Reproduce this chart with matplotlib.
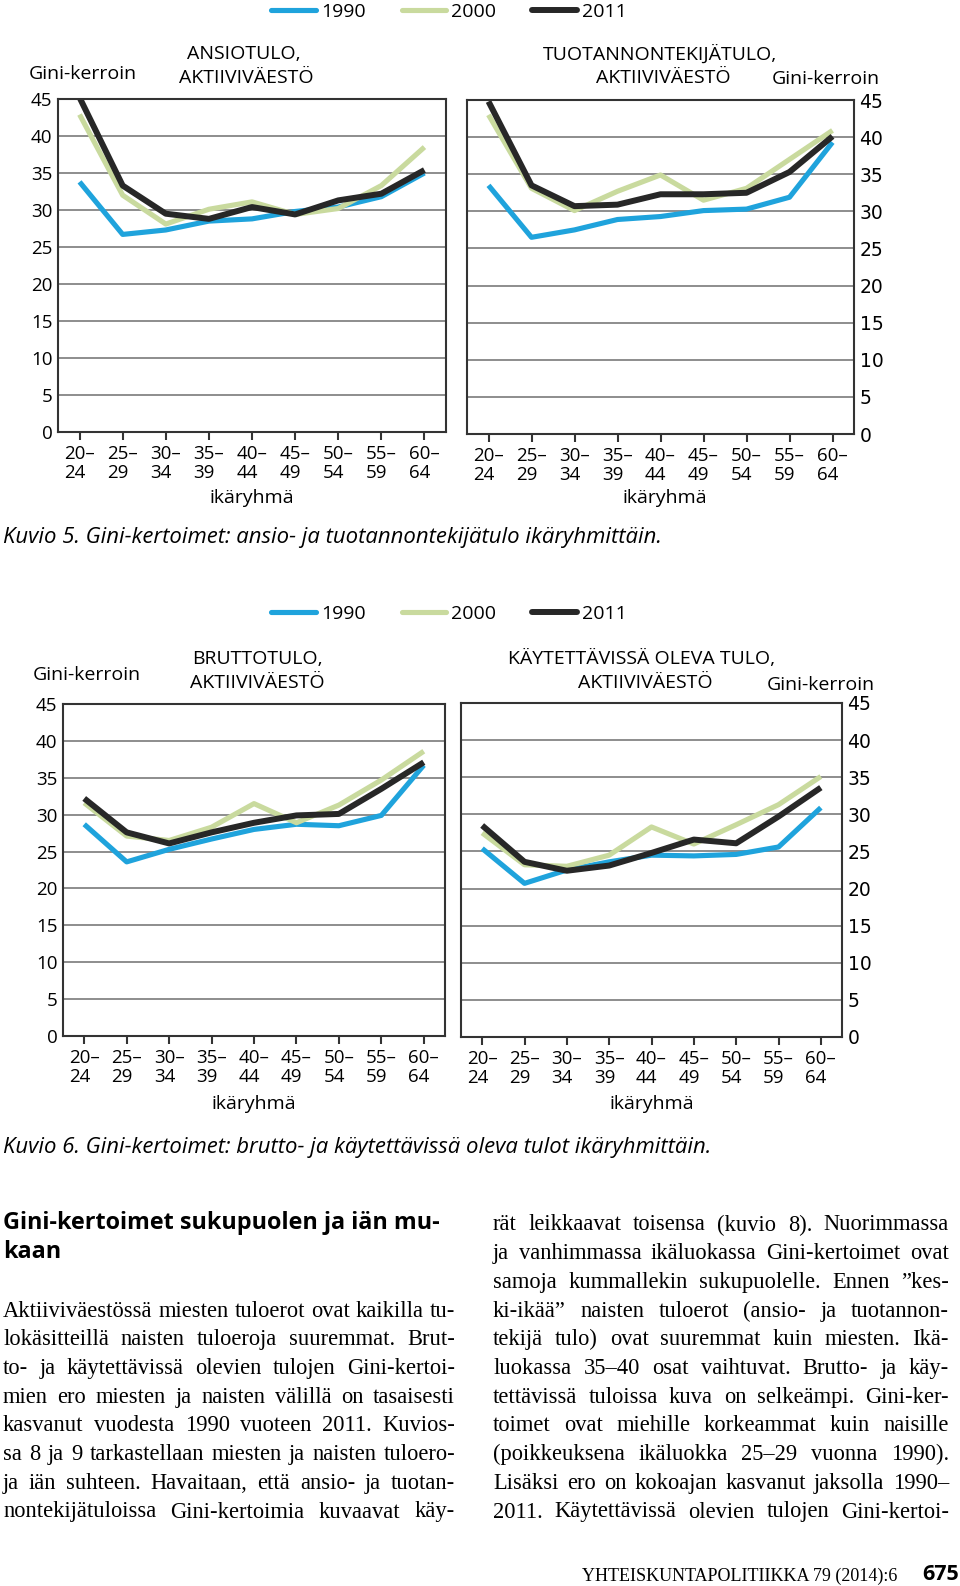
# plot.py
# Gini-kertoimet ikäryhmittäin (Kuvio 5 ja Kuvio 6) + leipäteksti

import matplotlib
matplotlib.use("Agg")
import matplotlib.pyplot as plt

# ─────────────────────────────────────────────────────────
# DATA (luettu kuvasta)
# ─────────────────────────────────────────────────────────
age_groups = ["20–\n24", "25–\n29", "30–\n34", "35–\n39", "40–\n44",
              "45–\n49", "50–\n54", "55–\n59", "60–\n64"]
years = ["1990", "2000", "2011"]
y_ticks = [0, 5, 10, 15, 20, 25, 30, 35, 40, 45]

ansio_1990 = [33.8, 26.7, 27.3, 28.5, 28.8, 29.8, 30.4, 31.8, 35.0]
ansio_2000 = [42.9, 32.0, 28.1, 30.1, 31.1, 29.4, 30.2, 33.3, 38.5]
ansio_2011 = [45.2, 33.3, 29.5, 28.8, 30.4, 29.4, 31.3, 32.2, 35.4]

tuot_1990 = [33.5, 26.5, 27.5, 28.9, 29.3, 30.1, 30.3, 31.9, 39.3]
tuot_2000 = [43.0, 33.1, 30.1, 32.7, 34.9, 31.5, 33.1, 37.0, 40.9]
tuot_2011 = [44.8, 33.5, 30.7, 30.9, 32.3, 32.3, 32.5, 35.3, 40.1]

brutto_1990 = [28.7, 23.6, 25.3, 26.7, 28.0, 28.7, 28.5, 29.9, 36.7]
brutto_2000 = [31.6, 27.1, 26.5, 28.3, 31.5, 28.9, 31.3, 34.7, 38.6]
brutto_2011 = [32.2, 27.6, 26.1, 27.6, 28.9, 29.9, 30.1, 33.5, 37.1]

kayt_1990 = [25.4, 20.7, 22.5, 23.6, 24.5, 24.4, 24.6, 25.6, 30.9]
kayt_2000 = [27.5, 23.2, 23.0, 24.5, 28.3, 26.0, 28.6, 31.3, 35.1]
kayt_2011 = [28.5, 23.6, 22.4, 23.1, 24.8, 26.6, 26.1, 29.7, 33.6]

caption5 = "Kuvio 5. Gini-kertoimet: ansio- ja tuotannontekijätulo ikäryhmittäin."
caption6 = "Kuvio 6. Gini-kertoimet: brutto- ja käytettävissä oleva tulot ikäryhmittäin."

heading = ["Gini-kertoimet sukupuolen ja iän mu-", "kaan"]

left_lines = [
    "Aktiiviväestössä miesten tuloerot ovat kaikilla tu-",
    "lokäsitteillä naisten tuloeroja suuremmat. Brut-",
    "to- ja käytettävissä olevien tulojen Gini-kertoi-",
    "mien ero miesten ja naisten välillä on tasaisesti",
    "kasvanut vuodesta 1990 vuoteen 2011. Kuvios-",
    "sa 8 ja 9 tarkastellaan miesten ja naisten tuloero-",
    "ja iän suhteen. Havaitaan, että ansio- ja tuotan-",
    "nontekijätuloissa Gini-kertoimia kuvaavat käy-",
]
right_lines = [
    "rät leikkaavat toisensa (kuvio 8). Nuorimmassa",
    "ja vanhimmassa ikäluokassa Gini-kertoimet ovat",
    "samoja kummallekin sukupuolelle. Ennen ”kes-",
    "ki-ikää” naisten tuloerot (ansio- ja tuotannon-",
    "tekijä tulo) ovat suuremmat kuin miesten. Ikä-",
    "luokassa 35–40 osat vaihtuvat. Brutto- ja käy-",
    "tettävissä tuloissa kuva on selkeämpi. Gini-ker-",
    "toimet ovat miehille korkeammat kuin naisille",
    "(poikkeuksena ikäluokka 25–29 vuonna 1990).",
    "Lisäksi ero on kokoajan kasvanut jaksolla 1990–",
    "2011. Käytettävissä olevien tulojen Gini-kertoi-",
]

# ─────────────────────────────────────────────────────────
# ULKOASU
# ─────────────────────────────────────────────────────────
W, H = 960, 1586
SANS = ["Open Sans", "DejaVu Sans"]
SERIF = ["Liberation Serif", "DejaVu Serif"]
colors = {"1990": "#1fa3dc", "2000": "#c9da9e", "2011": "#272727"}
widths = {"1990": 3.7, "2000": 3.7, "2011": 4.3}

fig = plt.figure(figsize=(W / 100, H / 100), dpi=100)
renderer = fig.canvas.get_renderer()


def box(l, t, r, b):
    # pikselit (vasen, ylä, oikea, ala) -> figure-koordinaatit
    return [l / W, 1 - b / H, (r - l) / W, (b - t) / H]


def ftext(x, y, s, **kw):
    kw.setdefault("family", SANS)
    return fig.text(x / W, 1 - y / H, s, **kw)


def fit_size(s, width, size=14, **kw):
    kw.setdefault("family", SANS)
    t = fig.text(0, 0, s, fontsize=size, **kw)
    w = t.get_window_extent(renderer).width
    t.remove()
    return size * width / w


def panel(rect, series, right=False):
    ax = fig.add_axes(box(*rect))
    x = list(range(len(age_groups)))
    for yr, vals in zip(years, series):
        ax.plot(x, vals, color=colors[yr], lw=widths[yr], label=yr,
                solid_joinstyle="round", solid_capstyle="butt")
    ax.set_xlim(-0.5, len(age_groups) - 0.5)
    ax.set_ylim(0, 45)
    ax.set_yticks(y_ticks)
    ax.grid(axis="y", color="#6f6f6f", lw=1.1)
    ax.set_axisbelow(True)
    for sp in ax.spines.values():
        sp.set_color("#333333")
        sp.set_linewidth(1.5)
    ax.set_xticks(x, age_groups)
    ax.tick_params(axis="x", direction="out", length=5.5, width=1.5,
                   color="#333333", pad=4, labelsize=13.5)
    ax.tick_params(axis="y", length=0, labelsize=13.5, pad=4)
    for lbl in ax.get_xticklabels():
        lbl.set_multialignment("left")
        lbl.set_linespacing(1.05)
        lbl.set_family(SANS)
    for lbl in ax.get_yticklabels():
        lbl.set_family(SANS)
    if right:
        ax.yaxis.tick_right()
    return ax


def legend(ax, y):
    leg = fig.legend(handles=ax.get_lines(), labels=years, ncol=3, frameon=False,
                     loc="center", bbox_to_anchor=(449 / W, 1 - y / H),
                     prop={"family": SANS, "size": 14}, handlelength=2.3,
                     handletextpad=0.25, columnspacing=1.85, borderaxespad=0)
    for ln in leg.get_lines():
        ln.set_solid_capstyle("round")


# ─────────────────────────────────────────────────────────
# KUVIO 5
# ─────────────────────────────────────────────────────────
ax1 = panel((58, 99, 446, 432), [ansio_1990, ansio_2000, ansio_2011])
ax2 = panel((467, 100, 854, 434), [tuot_1990, tuot_2000, tuot_2011], right=True)
legend(ax1, 12)

ftext(29, 74, "Gini-kerroin", fontsize=14, va="center")
ftext(244, 54, "ANSIOTULO,", fontsize=14, va="center", ha="center")
ftext(246, 78, "AKTIIVIVÄESTÖ", fontsize=14, va="center", ha="center")
ftext(660, 54, "TUOTANNONTEKIJÄTULO,", fontsize=14, va="center", ha="center")
ftext(663, 78, "AKTIIVIVÄESTÖ", fontsize=14, va="center", ha="center")
ftext(880, 79, "Gini-kerroin", fontsize=14, va="center", ha="right")
ftext(252, 498, "ikäryhmä", fontsize=14, va="center", ha="center")
ftext(665, 498, "ikäryhmä", fontsize=14, va="center", ha="center")

# kuvatekstin koko: alku "Kuvio 6 ... o" on noin 477 px leveä
cap_size = fit_size(caption6[:51], 477, style="italic")
ftext(3, 537, caption5, fontsize=cap_size, style="italic", va="center")

# ─────────────────────────────────────────────────────────
# KUVIO 6
# ─────────────────────────────────────────────────────────
ax3 = panel((63, 704, 445, 1036), [brutto_1990, brutto_2000, brutto_2011])
ax4 = panel((461, 703, 842, 1037), [kayt_1990, kayt_2000, kayt_2011], right=True)
legend(ax3, 614)

ftext(33, 675, "Gini-kerroin", fontsize=14, va="center")
ftext(257, 659, "BRUTTOTULO,", fontsize=14, va="center", ha="center")
ftext(257, 683, "AKTIIVIVÄESTÖ", fontsize=14, va="center", ha="center")
ftext(642, 659, "KÄYTETTÄVISSÄ OLEVA TULO,", fontsize=14, va="center", ha="center")
ftext(645, 683, "AKTIIVIVÄESTÖ", fontsize=14, va="center", ha="center")
ftext(875, 685, "Gini-kerroin", fontsize=14, va="center", ha="right")
ftext(254, 1104, "ikäryhmä", fontsize=14, va="center", ha="center")
ftext(652, 1104, "ikäryhmä", fontsize=14, va="center", ha="center")

ftext(3, 1148, caption6, fontsize=cap_size, style="italic", va="center")

# ─────────────────────────────────────────────────────────
# LEIPÄTEKSTI (tasattu palstoihin)
# ─────────────────────────────────────────────────────────
head_size = fit_size(heading[0], 440, weight="bold")
ftext(3, 1223, heading[0], fontsize=head_size, weight="bold", va="center")
ftext(3, 1252, heading[1], fontsize=head_size, weight="bold", va="center")

LEFT = (3, 455)
RIGHT = (493, 949)
LINE0, STEP = 1225, 28.7

body_size = min(fit_size(s, LEFT[1] - LEFT[0], family=SERIF) for s in left_lines)
body_size = min(body_size,
                min(fit_size(s, RIGHT[1] - RIGHT[0], family=SERIF) for s in right_lines))


def justify(col, y, line):
    words = line.split(" ")
    objs = [ftext(0, y, w, fontsize=body_size, family=SERIF, va="center")
            for w in words]
    ws = [o.get_window_extent(renderer).width for o in objs]
    gap = (col[1] - col[0] - sum(ws)) / max(len(words) - 1, 1)
    x = col[0]
    for o, w in zip(objs, ws):
        o.set_x(x / W)
        x += w + gap


for i, line in enumerate(left_lines):
    justify(LEFT, LINE0 + (i + 3) * STEP, line)
for i, line in enumerate(right_lines):
    justify(RIGHT, LINE0 + i * STEP, line)

foot_size = fit_size("YHTEISKUNTAPOLITIIKKA 79 (2014):6", 318, family=SERIF)
ftext(582, 1576, "YHTEISKUNTAPOLITIIKKA 79 (2014):6", fontsize=foot_size,
      family=SERIF, va="center")
ftext(959, 1575, "675", fontsize=15.5, weight="bold", va="center", ha="right")

plt.savefig("out.png", dpi=100)
